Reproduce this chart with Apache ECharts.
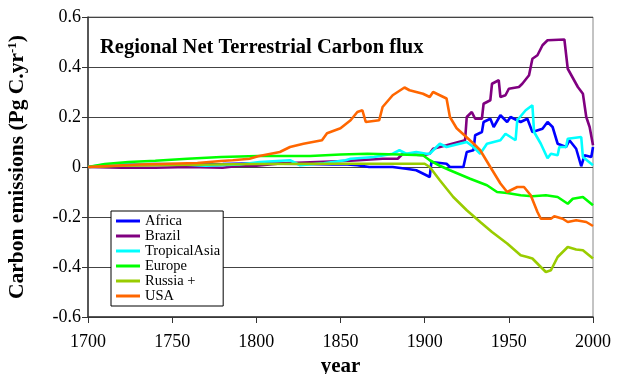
<!DOCTYPE html>
<html>
<head>
<meta charset="utf-8">
<script src="https://cdn.jsdelivr.net/npm/echarts@6/dist/echarts.min.js"></script>
<style>
html,body{margin:0;padding:0;background:#fff;}
#chart{width:617px;height:374px;}
</style>
</head>
<body>
<div id="chart"></div>
<script>
const seriesNames = ['Africa', 'Brazil', 'TropicalAsia', 'Europe', 'Russia +', 'USA'];
const seriesColors = ['#0000FF', '#800080', '#00FFFF', '#00FF00', '#99CC00', '#FF6600'];

const africaYears = [1700,1710,1720,1740,1760,1780,1800,1815,1830,1845,1854,1860,1867,1875,1881,1889,1895,1901,1903,1904,1913,1915,1923,1925,1929,1930,1934,1935,1939,1941,1945,1949,1951,1957,1961,1964,1970,1973,1976,1979,1984,1986,1990,1993,1995,1999,2000];
const africaValues = [0,0.005,0.01,0.012,0.01,0.012,0.015,0.013,0.012,0.01,0.01,0.007,0,0,0,-0.007,-0.013,-0.033,-0.04,0.02,0.013,0,0,0.06,0.067,0.127,0.14,0.18,0.193,0.16,0.207,0.18,0.2,0.18,0.193,0.14,0.153,0.18,0.16,0.093,0.08,0.107,0.073,0.003,0.047,0.04,0.08];

const brazilYears = [1700,1720,1740,1760,1780,1790,1800,1816,1836,1856,1875,1884,1887,1899,1903,1905,1913,1924,1925,1928,1930,1934,1935,1939,1940,1944,1945,1948,1950,1956,1958,1962,1964,1967,1970,1973,1983,1985,1991,1994,1996,1998,2000];
const brazilValues = [0,-0.003,-0.003,0,-0.003,0.005,0.005,0.015,0.02,0.025,0.033,0.033,0.053,0.047,0.053,0.073,0.087,0.107,0.2,0.22,0.193,0.193,0.253,0.267,0.333,0.347,0.28,0.287,0.313,0.32,0.333,0.367,0.433,0.447,0.487,0.507,0.51,0.393,0.32,0.293,0.2,0.16,0.087];

const tropicalAsiaYears = [1700,1710,1730,1750,1770,1790,1802,1820,1826,1840,1853,1856,1870,1881,1885,1889,1895,1901,1903,1909,1913,1925,1929,1933,1937,1945,1948,1954,1955,1960,1964,1965,1969,1973,1975,1979,1980,1984,1985,1993,1994,2000];
const tropicalAsiaValues = [0,0.01,0.01,0.012,0.005,0.01,0.02,0.027,0.007,0.015,0.027,0.033,0.04,0.053,0.067,0.053,0.06,0.053,0.053,0.093,0.08,0.1,0.08,0.053,0.093,0.107,0.133,0.107,0.187,0.227,0.247,0.14,0.093,0.035,0.053,0.047,0.08,0.08,0.113,0.12,0.04,0.007];

const europeYears = [1700,1710,1724,1740,1759,1779,1801,1832,1850,1866,1885,1899,1903,1909,1915,1927,1937,1943,1949,1957,1964,1972,1979,1985,1988,1994,2000];
const europeValues = [0,0.012,0.02,0.025,0.033,0.04,0.044,0.044,0.05,0.053,0.05,0.047,0.027,0.005,-0.013,-0.047,-0.073,-0.1,-0.104,-0.113,-0.117,-0.113,-0.12,-0.147,-0.127,-0.12,-0.153];

const russiaYears = [1700,1720,1750,1800,1850,1900,1903,1909,1917,1925,1933,1940,1949,1957,1961,1964,1969,1972,1975,1979,1985,1990,1994,2000];
const russiaValues = [0,0.005,0.008,0.012,0.013,0.013,0,-0.053,-0.12,-0.173,-0.22,-0.26,-0.306,-0.353,-0.36,-0.366,-0.4,-0.42,-0.413,-0.36,-0.32,-0.33,-0.333,-0.366];

const usaYears = [1700,1730,1765,1779,1786,1796,1801,1814,1820,1828,1839,1842,1850,1856,1860,1863,1865,1873,1875,1881,1888,1891,1899,1903,1905,1913,1915,1919,1929,1933,1939,1945,1949,1955,1959,1963,1967,1969,1975,1977,1982,1985,1990,1996,2000];
const usaValues = [0,0.01,0.016,0.024,0.027,0.033,0.043,0.06,0.08,0.093,0.107,0.135,0.155,0.187,0.22,0.227,0.18,0.187,0.24,0.287,0.318,0.307,0.293,0.28,0.3,0.274,0.2,0.155,0.094,0.067,0,-0.066,-0.1,-0.08,-0.08,-0.113,-0.18,-0.207,-0.207,-0.197,-0.207,-0.22,-0.213,-0.22,-0.236];

const xTicks = [1700, 1750, 1800, 1850, 1900, 1950, 2000];
const yTicks = [-0.6, -0.4, -0.2, 0, 0.2, 0.4, 0.6];

const allYears = [africaYears, brazilYears, tropicalAsiaYears, europeYears, russiaYears, usaYears];
const allValues = [africaValues, brazilValues, tropicalAsiaValues, europeValues, russiaValues, usaValues];

const serif = '"Liberation Serif", "Times New Roman", serif';

const series = seriesNames.map((name, i) => ({
  name: name,
  type: 'line',
  data: allYears[i].map((y, k) => [y, allValues[i][k]]),
  symbol: 'none',
  lineStyle: { color: seriesColors[i], width: 2.6 },
  itemStyle: { color: seriesColors[i] },
  animation: false
}));

const chart = echarts.init(document.getElementById('chart'), null, { renderer: 'canvas' });
chart.setOption({
  animation: false,
  backgroundColor: '#fff',
  grid: { left: 88, right: 24, top: 17, bottom: 57, show: true, borderColor: '#888', borderWidth: 1, outerBoundsMode: 'none', containLabel: false },
  title: {
    text: 'Regional Net Terrestrial Carbon flux',
    left: 95, top: 32,
    textStyle: { fontFamily: serif, fontWeight: 'bold', fontSize: 20.5, color: '#000' }
  },
  legend: {
    orient: 'vertical',
    left: 111, top: 211,
    padding: [2.5, 3, 2.5, 5],
    itemGap: 0,
    itemWidth: 24, itemHeight: 3,
    itemTextGap: 3,
    icon: 'rect',
    backgroundColor: '#fff',
    borderColor: '#000', borderWidth: 1,
    textStyle: { fontFamily: serif, fontSize: 14.5, lineHeight: 14.4, color: '#000' },
    data: seriesNames
  },
  xAxis: {
    type: 'value', min: 1700, max: 2000, interval: 50,
    name: 'year', nameLocation: 'middle', nameGap: 39,
    nameTextStyle: { fontFamily: serif, fontWeight: 'bold', fontSize: 21, color: '#000' },
    axisLine: { show: true, onZero: false, lineStyle: { color: '#333', width: 1.5 } },
    axisTick: { show: true, inside: false, length: 6, lineStyle: { color: '#333' } },
    axisLabel: { fontFamily: serif, fontSize: 18, color: '#000', margin: 16,
      formatter: v => xTicks.includes(v) ? String(v) : '' },
    splitLine: { show: false }
  },
  yAxis: {
    type: 'value', min: -0.6, max: 0.6, interval: 0.2,
    name: 'Carbon emissions (Pg C.yr{sup|-1})',
    nameLocation: 'middle', nameGap: 60, nameRotate: 90,
    nameTextStyle: { fontFamily: serif, fontWeight: 'bold', fontSize: 21.5, color: '#000',
      rich: { sup: { fontFamily: serif, fontWeight: 'bold', fontSize: 13, color: '#000', verticalAlign: 'top', padding: [0, 0, 9, 0] } } },
    axisLine: { show: true, onZero: false, lineStyle: { color: '#333', width: 1.5 } },
    axisTick: { show: true, inside: false, length: 6, lineStyle: { color: '#333' } },
    axisLabel: { fontFamily: serif, fontSize: 18, color: '#000', margin: 7,
      formatter: v => {
        const t = yTicks.find(k => Math.abs(k - v) < 1e-9);
        return t === undefined ? '' : String(Number(t.toFixed(1)));
      } },
    splitLine: { show: true, lineStyle: { color: '#444', width: 1 } }
  },
  series: series
});
</script>
</body>
</html>
